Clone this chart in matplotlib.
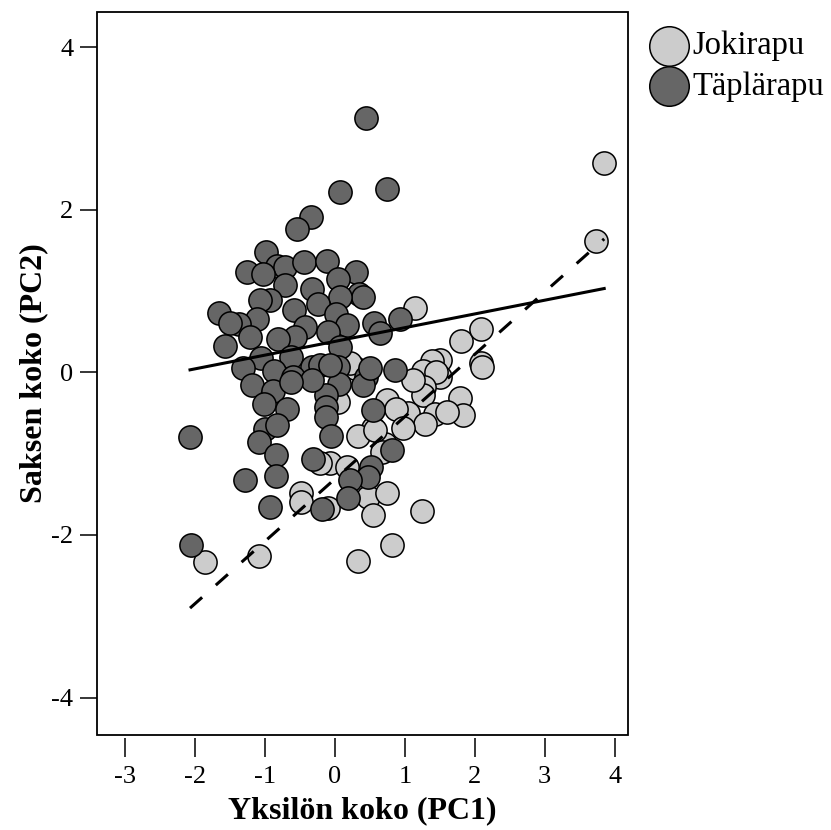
"""
Scatter of crayfish size components (PC1 vs PC2) for two species,
with a regression line per species.
"""

import matplotlib
matplotlib.use('Agg')
import matplotlib.pyplot as plt
from matplotlib.patches import Rectangle

plt.rcParams['font.family'] = ['Liberation Serif', 'DejaVu Serif']

SPECIES = ['Jokirapu', 'Täplärapu']
COLORS = {'Jokirapu': '#cccccc', 'Täplärapu': '#666666'}

# Jokirapu (light points)
joki_x = [1.14, 1.80, 2.09, 2.09, 2.11, 1.50, 1.50, 1.39, 1.26, 1.45,
          1.27, 1.26, 1.79, 1.83, 1.43, 1.60, 1.04, 1.29, 0.74, 0.88,
          0.55, 0.33, 0.98, 0.71, 0.67, -0.07, 0.17, 0.48, 0.74, 0.55,
          1.25, 0.81, 0.33, -0.48, -0.48, -0.10, -1.08, -1.86, 0.29, 0.04,
          3.84, 3.73, 0.57, -0.21, 0.21, 1.11]
joki_y = [0.79, 0.38, 0.53, 0.11, 0.07, 0.15, -0.06, 0.14, 0.02, 0.00,
          -0.18, -0.28, -0.32, -0.53, -0.51, -0.49, -0.50, -0.63, -0.34, -0.45,
          -0.69, -0.78, -0.69, -0.88, -0.98, -1.12, -1.17, -1.53, -1.49, -1.76,
          -1.71, -2.12, -2.32, -1.48, -1.60, -1.67, -2.26, -2.33, 0.05, -0.37,
          2.57, 1.61, -0.71, -1.12, 0.12, -0.10]

# Täplärapu (dark points)
tapla_x = [0.44, 0.07, 0.74, -0.34, -0.54, -0.98, -1.26, -0.82, -0.71, -0.44,
           -0.11, 0.30, 0.04, -1.02, -0.71, -0.32, 0.35, 0.40, 0.07, -0.92,
           -1.07, -1.65, -0.24, -0.58, 0.02, -1.11, -1.37, -1.50, 0.17, 0.56,
           0.93, 0.64, -0.43, -0.10, -1.57, -1.21, -0.57, -0.81, 0.07, -1.06,
           -0.62, -1.31, -0.33, 0.05, -0.87, -0.60, -1.18, 0.06, 0.44, 0.86,
           -0.88, -1.01, -0.68, -0.12, -0.12, -0.12, 0.54, 0.40, 0.50, -0.21,
           -0.33, -0.62, -2.07, -1.00, -0.82, -1.09, -0.84, -1.29, -0.84, -0.31,
           -0.05, 0.82, 0.52, 0.48, 0.21, 0.19, -0.19, -0.93, -2.05, -0.07]
tapla_y = [3.13, 2.22, 2.25, 1.91, 1.76, 1.48, 1.23, 1.31, 1.30, 1.36,
           1.37, 1.23, 1.15, 1.21, 1.07, 1.03, 0.96, 0.93, 0.93, 0.89,
           0.89, 0.73, 0.84, 0.77, 0.72, 0.65, 0.59, 0.60, 0.58, 0.60,
           0.66, 0.48, 0.56, 0.50, 0.32, 0.43, 0.43, 0.41, 0.31, 0.18,
           0.19, 0.05, 0.07, 0.07, 0.02, -0.06, -0.16, -0.14, -0.06, 0.03,
           -0.23, -0.39, -0.45, -0.28, -0.43, -0.55, -0.46, -0.16, 0.05, 0.09,
           -0.10, -0.12, -0.79, -0.70, -0.65, -0.86, -1.02, -1.33, -1.27, -1.07,
           -0.78, -0.95, -1.17, -1.29, -1.33, -1.55, -1.68, -1.66, -2.12, 0.09]

# Regression lines (end points)
fit_x = [-2.07, 3.85]
joki_fit_y = [-2.90, 1.64]
tapla_fit_y = [0.03, 1.03]

x_ticks = [-3, -2, -1, 0, 1, 2, 3, 4]
y_ticks = [-4, -2, 0, 2, 4]

fig = plt.figure(figsize=(8.31, 8.30), dpi=100)
ax = fig.add_axes([0.1167, 0.1145, 0.639, 0.8710])

ax.scatter(joki_x, joki_y, s=280, c=COLORS['Jokirapu'], edgecolors='black',
           linewidths=1.1, label='Jokirapu', zorder=2)
ax.scatter(tapla_x, tapla_y, s=280, c=COLORS['Täplärapu'], edgecolors='black',
           linewidths=1.1, label='Täplärapu', zorder=3)

ax.plot(fit_x, tapla_fit_y, color='black', linewidth=2.2, zorder=4)
ax.plot(fit_x, joki_fit_y, color='black', linewidth=2.2,
        linestyle=(0, (5.3, 6.0)), dash_capstyle='butt', zorder=4)

ax.set_xlim(-3.4, 4.19)
ax.set_ylim(-4.46, 4.43)
ax.set_xticks(x_ticks)
ax.set_yticks(y_ticks)
ax.set_xticklabels([str(t) for t in x_ticks])
ax.set_yticklabels([str(t) for t in y_ticks])

# box drawn separately so the x ticks can sit just below it
for side in ['top', 'right', 'left', 'bottom']:
    ax.spines[side].set_visible(False)
ax.spines['bottom'].set_position(('outward', 2.5))
ax.add_patch(Rectangle((0, 0), 1, 1, transform=ax.transAxes, fill=False,
                       edgecolor='black', linewidth=1.3, clip_on=False, zorder=5))

ax.tick_params(axis='x', direction='out', length=13.5, width=1.1, pad=6,
               labelsize=19)
ax.tick_params(axis='y', direction='out', length=12, width=1.1, pad=5,
               labelsize=19)

ax.set_xlabel('Yksilön koko (PC1)', fontsize=23, fontweight='bold', labelpad=6)
ax.set_ylabel('Saksen koko (PC2)', fontsize=23, fontweight='bold', labelpad=2)

fig.legend(loc='upper left', bbox_to_anchor=(0.766, 0.963), frameon=False,
           fontsize=23.5, markerscale=1.7, handletextpad=-0.3, labelspacing=0.3,
           borderaxespad=0, borderpad=0)

fig.savefig('out.png', dpi=100)
